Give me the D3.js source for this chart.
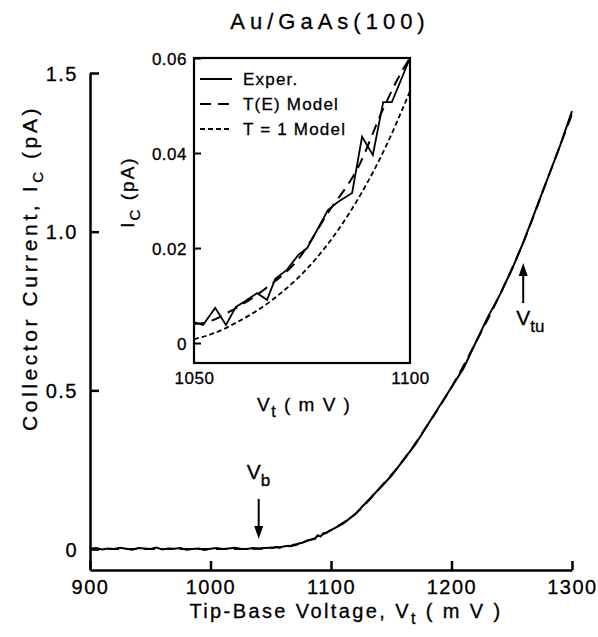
<!DOCTYPE html>
<html>
<head>
<meta charset="utf-8">
<script src="https://cdn.jsdelivr.net/npm/d3@7"></script>
<style>
  body { margin: 0; background: #fff; }
  text { font-family: "Liberation Sans", Arial, sans-serif; fill: #000; stroke: #000; stroke-width: 0.3px; }
</style>
</head>
<body>
<div class="chart"></div>
<script>
// main curve, experiment
var mainV = [900, 905, 910, 915, 920, 925, 930, 935, 940, 945, 950, 955, 960, 965, 970, 975, 980, 985, 990, 995,
  1000, 1005, 1010, 1015, 1020, 1025, 1030, 1035, 1040, 1045,
  1050, 1052.1, 1054.9, 1057.4, 1059.7, 1061.8, 1064.6, 1066.9, 1068.8, 1071.5, 1074.1, 1076.2, 1078.5,
  1081, 1083.3, 1086.6, 1088.9, 1091.4, 1093.8, 1095.8, 1100,
  1110, 1120, 1130, 1140, 1150, 1160, 1170, 1180, 1190, 1200, 1210, 1220, 1230, 1240, 1250, 1260, 1270, 1280, 1290, 1300];
var mainExp = [0.001, 0.003, -0.001, 0.002, 0.000, 0.004, 0.001, -0.002, 0.003, 0.002, 0.000, 0.005, -0.001, 0.002, 0.001, 0.003, -0.002, 0.000, 0.002, -0.003,
  0.001, 0.003, 0.000, 0.002, 0.004, 0.001, 0.000, 0.003, 0.002, 0.003,
  0.0044, 0.0038, 0.0074, 0.0038, 0.0076, 0.0088, 0.0105, 0.0091, 0.0135, 0.0154, 0.0185, 0.0200, 0.0238,
  0.0280, 0.0297, 0.0316, 0.0434, 0.0396, 0.0507, 0.0507, 0.0600,
  0.08, 0.11, 0.15, 0.19, 0.23, 0.28, 0.33, 0.39, 0.45, 0.51, 0.57, 0.65, 0.73, 0.80, 0.88, 0.97, 1.07, 1.17, 1.27, 1.38];

// main curve, T(E) model
var modelV = [900, 1000, 1040, 1050, 1060, 1070, 1080, 1090, 1100, 1120, 1140, 1160, 1180, 1200, 1220, 1240, 1260, 1280, 1300];
var modelTE = [0, 0, 0.001, 0.004, 0.007, 0.012, 0.025, 0.040, 0.060, 0.11, 0.19, 0.28, 0.39, 0.51, 0.65, 0.80, 0.97, 1.17, 1.37];

// inset
var insetV = [1050, 1052.1, 1054.9, 1057.4, 1059.7, 1061.8, 1064.6, 1066.9, 1068.8, 1071.5, 1074.1, 1076.2, 1078.5,
  1081, 1083.3, 1086.6, 1088.9, 1091.4, 1093.8, 1095.8, 1100];
var insetExp = [0.0044, 0.0038, 0.0074, 0.0038, 0.0076, 0.0088, 0.0105, 0.0091, 0.0135, 0.0154, 0.0185, 0.0200, 0.0238,
  0.0280, 0.0297, 0.0316, 0.0434, 0.0396, 0.0507, 0.0507, 0.0600];
var insetTEV = [1050, 1053, 1059, 1067, 1074, 1081, 1088, 1094, 1098, 1100];
var insetTE = [0.0040, 0.0044, 0.0070, 0.0118, 0.0175, 0.0274, 0.0370, 0.0497, 0.0570, 0.0600];
var insetT1V = [1050, 1055, 1060, 1069, 1078, 1086, 1094, 1100];
var insetT1 = [0.0008, 0.0022, 0.0044, 0.0097, 0.0175, 0.0274, 0.0406, 0.0530];

var xTicks = [900, 1000, 1100, 1200, 1300];
var yTicks = [0, 0.5, 1.0, 1.5];
var yTickLabels = ["0", "0.5", "1.0", "1.5"];
var insetXTicks = [1050, 1100];
var insetYTicks = [0, 0.02, 0.04, 0.06];
var insetYTickLabels = ["0", "0.02", "0.04", "0.06"];
var legendLabels = ["Exper.", "T(E)  Model", "T = 1  Model"];
var legendDash = [null, "11,7", "5,3"];

var svg = d3.select(".chart")
  .append("svg")
  .attr("width", 598)
  .attr("height", 637);

var x = d3.scaleLinear().domain([900, 1300]).range([90, 572]);
var y = d3.scaleLinear().domain([-0.066, 1.5]).range([570, 73]);

var pts = function (vs, is) { return vs.map(function (v, i) { return [v, is[i]]; }); };

/* ------- MAIN AXES -------*/
var xAxis = svg.append("g")
  .attr("transform", "translate(0,570)")
  .call(d3.axisBottom(x).tickValues(xTicks).tickSizeInner(-9).tickSizeOuter(0).tickPadding(10).tickFormat(d3.format("d")));
var yAxis = svg.append("g")
  .attr("transform", "translate(90,0)")
  .call(d3.axisLeft(y).tickValues(yTicks).tickSizeInner(-9).tickSizeOuter(0).tickPadding(12)
    .tickFormat(function (d, i) { return yTickLabels[i]; }));

[xAxis, yAxis].forEach(function (g) {
  g.selectAll("path, line").attr("stroke", "#000").attr("stroke-width", 2.5);
  g.selectAll("text").attr("font-size", 20).attr("letter-spacing", 1.5)
    .style("font-family", "'Liberation Sans', Arial, sans-serif").attr("fill", "#000");
});
xAxis.selectAll("text").attr("dy", "0.71em");
yAxis.selectAll("text").attr("dy", "0.36em");

/* ------- MAIN CURVES -------*/
var line = d3.line()
  .x(function (d) { return x(d[0]); })
  .y(function (d) { return y(d[1]); });

svg.append("path")
  .datum(pts(modelV, modelTE))
  .attr("fill", "none").attr("stroke", "#000").attr("stroke-width", 2)
  .attr("stroke-dasharray", "11,7")
  .attr("d", line.curve(d3.curveMonotoneX));

svg.append("path")
  .datum(pts(mainV, mainExp))
  .attr("fill", "none").attr("stroke", "#000").attr("stroke-width", 2)
  .attr("d", line.curve(d3.curveLinear));

/* ------- ARROWS -------*/
function arrow(v, from, to) {
  var x0 = x(v), y0 = y(from), y1 = y(to);
  var dir = y1 > y0 ? 1 : -1;
  svg.append("line")
    .attr("x1", x0).attr("x2", x0).attr("y1", y0).attr("y2", y1 - dir * 10)
    .attr("stroke", "#000").attr("stroke-width", 2);
  svg.append("path")
    .attr("d", "M" + (x0 - 4.5) + "," + (y1 - dir * 13) + "L" + (x0 + 4.5) + "," + (y1 - dir * 13) + "L" + x0 + "," + y1 + "Z")
    .attr("fill", "#000");
}
arrow(1040, 0.158, 0.032);
arrow(1259.5, 0.775, 0.901);

function subLabel(px, py, main, sub) {
  var t = svg.append("text").attr("x", px).attr("y", py).attr("font-size", 21);
  t.append("tspan").text(main);
  t.append("tspan").attr("dy", 7).attr("font-size", 17).text(sub);
}
subLabel(x(1040) - 12, y(0.21) - 3, "V", "b");
subLabel(x(1262) - 10, y(0.705), "V", "tu");

/* ------- TITLES -------*/
svg.append("text")
  .attr("x", 330).attr("y", 29)
  .attr("text-anchor", "middle")
  .attr("font-size", 22).attr("letter-spacing", 5)
  .text("Au/GaAs(100)");

var xt = svg.append("text")
  .attr("x", 346).attr("y", 618)
  .attr("text-anchor", "middle")
  .attr("font-size", 20).attr("letter-spacing", 2.4);
xt.append("tspan").text("Tip-Base  Voltage,  V");
xt.append("tspan").attr("dy", 6).attr("font-size", 16).text("t");
xt.append("tspan").attr("dy", -6).text(" ( m V )");

var yt = svg.append("text")
  .attr("transform", "translate(37,268) rotate(-90)")
  .attr("text-anchor", "middle")
  .attr("font-size", 21).attr("letter-spacing", 3.6);
yt.append("tspan").text("Collector  Current,  I");
yt.append("tspan").attr("dy", 6).attr("font-size", 15).text("C");
yt.append("tspan").attr("dy", -6).text(" (pA)");

/* ------- INSET -------*/
var ix = d3.scaleLinear().domain([1050, 1100]).range([194, 410]);
var iy = d3.scaleLinear().domain([-0.0042, 0.06]).range([363, 58]);

var inset = svg.append("g").attr("class", "inset");
inset.append("rect")
  .attr("x", ix(1050)).attr("y", iy(0.06))
  .attr("width", ix(1100) - ix(1050)).attr("height", iy(-0.0042) - iy(0.06))
  .attr("fill", "#fff").attr("stroke", "#000").attr("stroke-width", 2.2);

var iyAxis = inset.append("g")
  .attr("transform", "translate(" + ix(1050) + ",0)")
  .call(d3.axisLeft(iy).tickValues(insetYTicks).tickSizeInner(-7).tickSizeOuter(0).tickPadding(7)
    .tickFormat(function (d, i) { return insetYTickLabels[i]; }));
var ixAxis = inset.append("g")
  .attr("transform", "translate(0," + iy(-0.0042) + ")")
  .call(d3.axisBottom(ix).tickValues(insetXTicks).tickSizeInner(0).tickSizeOuter(0).tickPadding(9).tickFormat(d3.format("d")));
[iyAxis, ixAxis].forEach(function (g) {
  g.select(".domain").remove();
  g.selectAll("line").attr("stroke", "#000").attr("stroke-width", 2);
  g.selectAll("text").attr("font-size", 17).attr("letter-spacing", 0.5)
    .style("font-family", "'Liberation Sans', Arial, sans-serif").attr("fill", "#000");
});
ixAxis.selectAll("text").attr("dy", "0.71em");
iyAxis.selectAll("text").attr("dy", "0.36em");

var iline = d3.line()
  .x(function (d) { return ix(d[0]); })
  .y(function (d) { return iy(d[1]); });

inset.append("path")
  .datum(pts(insetT1V, insetT1))
  .attr("fill", "none").attr("stroke", "#000").attr("stroke-width", 1.8)
  .attr("stroke-dasharray", "5,3")
  .attr("d", iline.curve(d3.curveMonotoneX));
inset.append("path")
  .datum(pts(insetTEV, insetTE))
  .attr("fill", "none").attr("stroke", "#000").attr("stroke-width", 2)
  .attr("stroke-dasharray", "11,7")
  .attr("d", iline.curve(d3.curveMonotoneX));
inset.append("path")
  .datum(pts(insetV, insetExp))
  .attr("fill", "none").attr("stroke", "#000").attr("stroke-width", 1.8)
  .attr("d", iline.curve(d3.curveLinear));

// legend
var leg = inset.selectAll("g.leg")
  .data(legendLabels)
  .enter().append("g")
  .attr("class", "leg")
  .attr("transform", function (d, i) { return "translate(200," + (79 + i * 25) + ")"; });
leg.append("line")
  .attr("x1", 0).attr("x2", 32)
  .attr("stroke", "#000").attr("stroke-width", 2)
  .attr("stroke-dasharray", function (d, i) { return legendDash[i]; });
leg.append("text")
  .attr("x", 43).attr("y", 6)
  .attr("font-size", 17).attr("letter-spacing", 1.2)
  .text(function (d) { return d; });

var ixt = inset.append("text")
  .attr("x", 257).attr("y", 411)
  .attr("font-size", 19).attr("letter-spacing", 1.5);
ixt.append("tspan").text("V");
ixt.append("tspan").attr("dy", 6).attr("font-size", 16).text("t");
ixt.append("tspan").attr("dy", -6).text(" ( m V )");

var iyt = inset.append("text")
  .attr("transform", "translate(134,192) rotate(-90)")
  .attr("text-anchor", "middle")
  .attr("font-size", 19).attr("letter-spacing", 2);
iyt.append("tspan").text("I");
iyt.append("tspan").attr("dy", 6).attr("font-size", 15).text("C");
iyt.append("tspan").attr("dy", -6).text(" (pA)");
</script>
</body>
</html>
